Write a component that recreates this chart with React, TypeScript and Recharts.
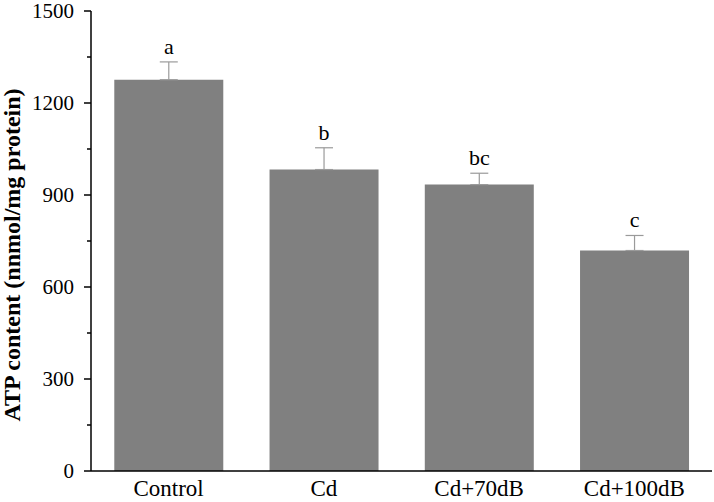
import { BarChart, Bar, XAxis, YAxis, ErrorBar, LabelList, Label } from 'recharts';

const groups = ['Control', 'Cd', 'Cd+70dB', 'Cd+100dB'];
const atp = [1276, 983, 934, 719];
const sd = [58, 71, 37, 49];
const letters = ['a', 'b', 'bc', 'c'];
const yTicks = [0, 150, 300, 450, 600, 750, 900, 1050, 1200, 1350, 1500];

const data = groups.map((g, i) => ({
  name: g,
  atp: atp[i],
  err: [0, sd[i]],
  sd: sd[i],
  letter: letters[i],
}));

const FONT = '"Liberation Serif", "Times New Roman", serif';

function YTick(props: any) {
  const { x, y, payload } = props;
  const major = payload.value % 300 === 0;
  return (
    <g>
      <line x1={x - (major ? 7 : 4)} x2={x} y1={y} y2={y} stroke="#000" strokeWidth={1.5} />
      {major && (
        <text x={x - 17} y={y} dy={7} textAnchor="end" fontSize={21} fontFamily={FONT} fill="#000">
          {payload.value}
        </text>
      )}
    </g>
  );
}

function LetterLabel(props: any) {
  const { x, y, width, height, index } = props;
  const d = data[index];
  // px per unit from the bar's own scaled height
  const k = height / d.atp;
  const top = y - d.sd * k;
  return (
    <text x={x + width / 2} y={top - 8} textAnchor="middle" fontSize={22} fontFamily={FONT} fill="#000">
      {d.letter}
    </text>
  );
}

function YLabel(props: any) {
  const { viewBox } = props;
  const cx = 12;
  const cy = viewBox.y + viewBox.height / 2 + 14;
  return (
    <text
      x={cx}
      y={cy}
      transform={`rotate(-90, ${cx}, ${cy})`}
      textAnchor="middle"
      dominantBaseline="central"
      fontSize={24}
      fontWeight="bold"
      fontFamily={FONT}
      fill="#000"
    >
      ATP content (nnmol/mg protein)
    </text>
  );
}

export default function App() {
  return (
    <div style={{ position: 'absolute', left: 0, top: 0, background: '#fff' }}>
      <BarChart
        width={714}
        height={502}
        data={data}
        margin={{ top: 11, right: 2, bottom: 0, left: 31 }}
        barCategoryGap="15%"
      >
        <XAxis
          dataKey="name"
          tickLine={false}
          axisLine={{ stroke: '#000', strokeWidth: 1.5 }}
          height={31}
          tick={{ fontSize: 23, fontFamily: FONT, fill: '#000' }}
          tickMargin={3}
        />
        <YAxis
          domain={[0, 1500]}
          ticks={yTicks}
          interval={0}
          width={60}
          tickLine={false}
          tickSize={0}
          tickMargin={0}
          axisLine={{ stroke: '#000', strokeWidth: 1.5 }}
          tick={<YTick />}
        >
          <Label content={<YLabel />} />
        </YAxis>
        <Bar dataKey="atp" fill="#808080" isAnimationActive={false}>
          <ErrorBar dataKey="err" width={9} stroke="#9a9a9a" strokeWidth={1.2} direction="y" />
          <LabelList dataKey="letter" content={<LetterLabel />} />
        </Bar>
      </BarChart>
    </div>
  );
}
